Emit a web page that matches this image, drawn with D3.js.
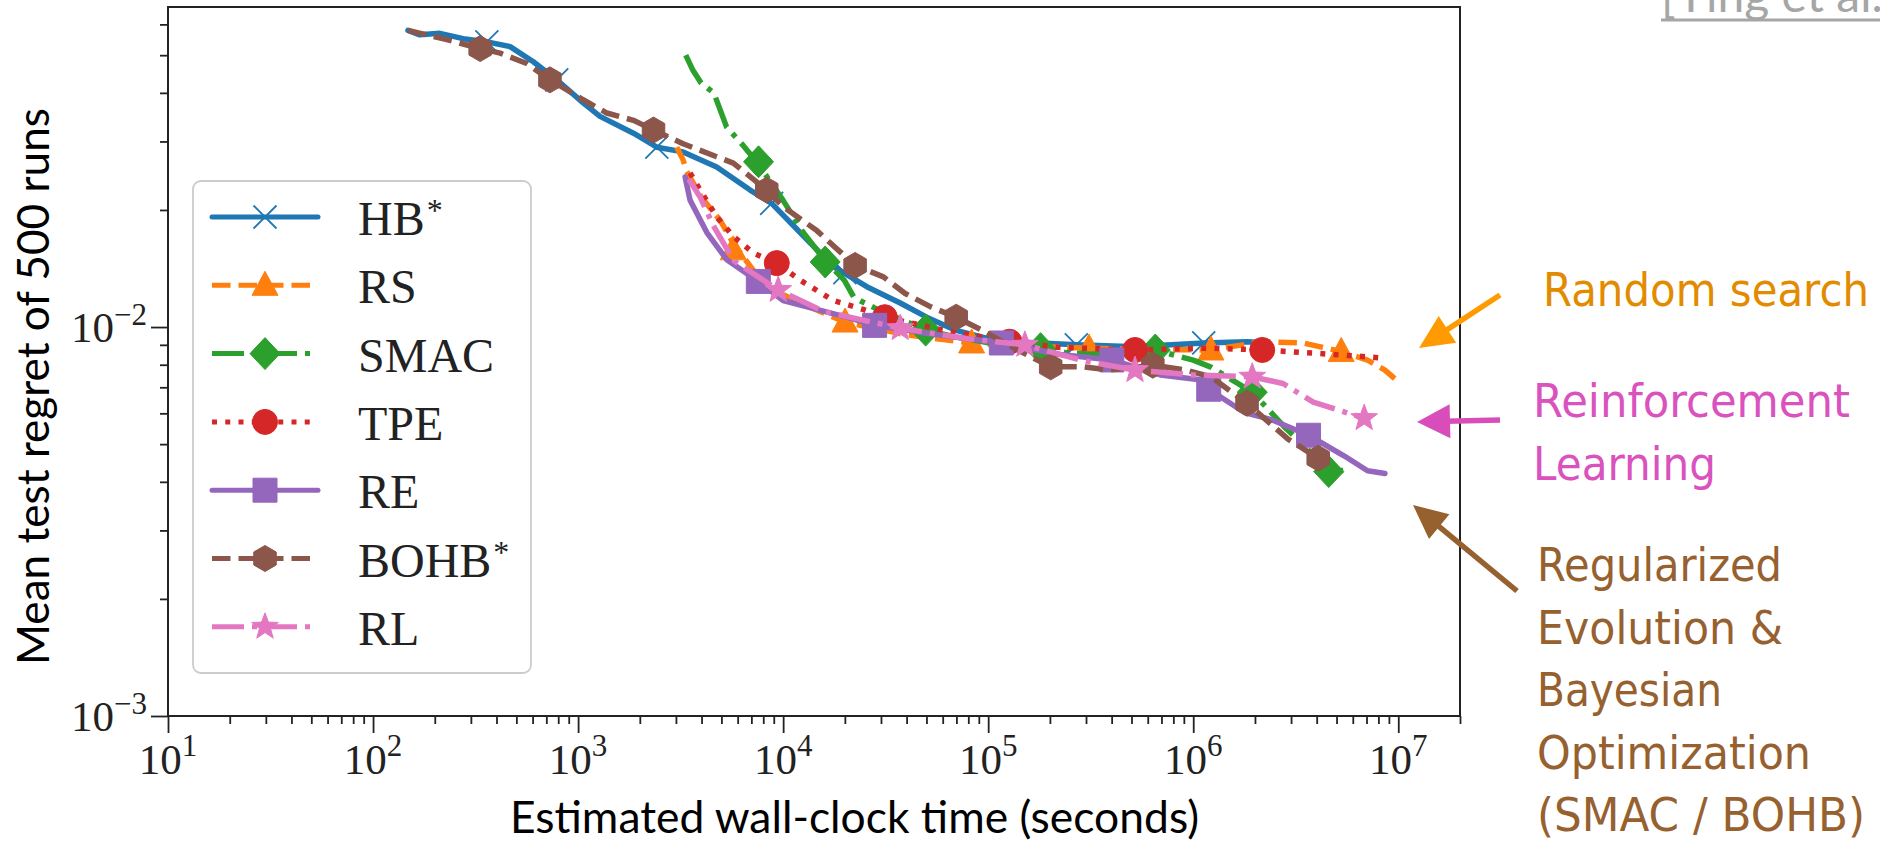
<!DOCTYPE html>
<html>
<head>
<meta charset="utf-8">
<script src="https://cdn.jsdelivr.net/npm/d3@7"></script>
<style>
  body { margin: 0; background: #fff; }
</style>
</head>
<body>
<div id="chart"></div>
<script>
// Size of the page
var width = 1880;
var height = 843;

// Series, in drawing order (later ones on top)
var names = ["HB*", "RS", "SMAC", "TPE", "RE", "BOHB*", "RL"];
var colors = ["#1f77b4", "#ff7f0e", "#2ca02c", "#d62728", "#9467bd", "#8c564b", "#e377c2"];

// [seconds, mean test regret]
var hbLine = [[148,0.0579],[169,0.0564],[212,0.0569],[282,0.0550],[359,0.0541],[466,0.0526],[605,0.0481],[787,0.0432],[1059,0.0377],[1279,0.0348],[1862,0.0315],[2421,0.0290],[3251,0.0282],[4742,0.0258],[6902,0.0225],[8790,0.0208],[12100,0.0175],[17580,0.0143],[25590,0.0127],[37240,0.01153],[50100,0.0106],[69800,0.0098],[1e5,0.00933],[1.58e5,0.00912],[2.69e5,0.0090],[5.2e5,0.0089],[1.125e6,0.0091],[1.83e6,0.00917],[2.19e6,0.00912]];
var hbMarks = [[359,0.0541],[787,0.0432],[2421,0.0290],[8790,0.0208],[20000,0.0138],[2.69e5,0.0090],[1.125e6,0.0091]];

var rsLine = [[3027,0.0290],[3251,0.0269],[3388,0.0251],[3981,0.0216],[4932,0.0188],[5715,0.0164],[7079,0.0141],[8318,0.0127],[12100,0.01153],[20040,0.0103],[39800,0.00955],[83000,0.0091],[1.58e5,0.00891],[3.1e5,0.00883],[6.31e5,0.00875],[1.22e6,0.00873],[2.17e6,0.00917],[3.44e6,0.0091],[5.27e6,0.00865],[7.08e6,0.00822],[8.61e6,0.00775],[9.77e6,0.00731]];
var rsMarks = [[5715,0.0158],[20040,0.0103],[83000,0.0091],[3.1e5,0.00883],[1.22e6,0.00873],[5.27e6,0.00865]];

var smacLine = [[3350,0.0500],[3631,0.0457],[3981,0.0424],[4592,0.0400],[5297,0.0327],[6310,0.0295],[7464,0.0265],[9977,0.0212],[12530,0.0175],[16220,0.0147],[19860,0.0132],[22180,0.0119],[27930,0.0112],[49550,0.00982],[69820,0.00942],[1.12e5,0.00902],[1.75e5,0.0087],[3.16e5,0.00851],[6.53e5,0.00873],[1e6,0.00822],[1.22e6,0.00789],[1.94e6,0.0068],[2.82e6,0.0055],[3.55e6,0.0049],[4.58e6,0.00425],[5.77e6,0.00429]];
var smacMarks = [[7586,0.0266],[16030,0.0147],[49550,0.00982],[1.8e5,0.0088],[6.53e5,0.00873],[1.94e6,0.0068],[4.58e6,0.00425]];

var tpeLine = [[3516,0.0249],[3936,0.0225],[4742,0.0192],[5715,0.0171],[7161,0.0155],[9311,0.0146],[12100,0.0132],[17580,0.0117],[24550,0.0111],[31330,0.0106],[63100,0.00977],[1.27e5,0.00917],[2.19e5,0.00887],[5.2e5,0.00873],[1.22e6,0.00883],[2.17e6,0.00873],[3.85e6,0.00857],[8.61e6,0.00832]];
var tpeMarks = [[9311,0.0146],[31330,0.0106],[1.27e5,0.00917],[5.2e5,0.00873],[2.17e6,0.00873]];

var reLine = [[3327,0.0243],[3516,0.0212],[4246,0.0175],[5309,0.0149],[7568,0.0131],[10000,0.0117],[14590,0.0111],[21230,0.01054],[27930,0.0101],[56200,0.00955],[1.159e5,0.0091],[2.24e5,0.0085],[4.01e5,0.00823],[6.92e5,0.00753],[1.10e6,0.00731],[1.19e6,0.00692],[1.78e6,0.00603],[2.43e6,0.00577],[3.65e6,0.00527],[5.46e6,0.00466],[7.08e6,0.00427],[8.61e6,0.0042]];
var reMarks = [[7568,0.0131],[27930,0.0101],[1.159e5,0.0091],[4.01e5,0.00823],[1.19e6,0.00692],[3.65e6,0.00527]];

var bohbLine = [[148,0.0579],[224,0.0550],[333,0.0520],[417,0.0506],[562,0.0476],[729,0.0432],[1059,0.0384],[1380,0.0355],[1862,0.0340],[2333,0.0321],[3251,0.0296],[4742,0.0274],[5715,0.0264],[8318,0.0225],[10000,0.0204],[14590,0.0177],[22440,0.0144],[30830,0.01346],[39360,0.0122],[52480,0.01127],[69820,0.0106],[93110,0.00982],[1.41e5,0.0087],[2.018e5,0.0079],[2.931e5,0.0079],[3.89e5,0.00775],[6.353e5,0.00798],[9.2e5,0.00775],[1.22e6,0.00745],[1.83e6,0.00637],[2.9e6,0.00515],[4.07e6,0.0046],[4.58e6,0.00447]];
var bohbMarks = [[333,0.0520],[729,0.0432],[2333,0.0321],[8318,0.0225],[22440,0.0144],[69820,0.0106],[2.018e5,0.0079],[6.353e5,0.00798],[1.83e6,0.00637],[4.07e6,0.0046]];

var rlLine = [[3467,0.0240],[3936,0.0216],[4571,0.0182],[5754,0.0148],[9462,0.01245],[15850,0.01096],[37240,0.00993],[79400,0.00933],[1.51e5,0.0090],[2.82e5,0.00822],[5.2e5,0.00775],[1e6,0.00753],[1.94e6,0.00745],[2.74e6,0.00716],[3.85e6,0.00641],[6.82e6,0.00583]];
var rlMarks = [[9462,0.01245],[37240,0.00993],[1.51e5,0.0090],[5.2e5,0.00775],[1.94e6,0.00745],[6.82e6,0.00583]];

var lines = [hbLine, rsLine, smacLine, tpeLine, reLine, bohbLine, rlLine];
var marks = [hbMarks, rsMarks, smacMarks, tpeMarks, reMarks, bohbMarks, rlMarks];

// tick labels (powers of ten)
var xExponents = [1, 2, 3, 4, 5, 6, 7];
var yExponents = [-3, -2];

var xTitle = "Estimated wall-clock time (seconds)";
var yTitle = "Mean test regret of 500 runs";
var citation = "[Ying et al., 2019]";
var noteRS = ["Random search"];
var noteRL = ["Reinforcement", "Learning"];
var noteBO = ["Regularized", "Evolution &", "Bayesian", "Optimization", "(SMAC / BOHB)"];

// line styles per series
var dashes = [null, "18.5,8", "32,8,5,8", "5,8.25", null, "18.5,8", "32,8,5,8"];
var symbols = ["x", "triangle", "diamond", "circle", "square", "hexagon", "star"];

var serif = "'Liberation Serif', 'DejaVu Serif', serif";
var sans = "Lato, 'Open Sans', sans-serif";
var noteFont = "'DejaVu Sans', Verdana, sans-serif";

var svg = d3.select("#chart")
  .append("svg")
  .attr("width", width)
  .attr("height", height);

// scales
var x = d3.scaleLog().domain([10, 2e7]).range([168, 1460]);
var y = d3.scaleLog().domain([1e-3, 0.0665]).range([716, 7]);

function isMajor(v) {
  var l = Math.log10(v);
  return Math.abs(l - Math.round(l)) < 1e-9;
}

// axes: minor and major ticks
var xTicks = x.ticks();
var yTicks = y.ticks();

function styleAxis(g) {
  g.select(".domain").remove();
  g.selectAll("line").attr("stroke", "#222").attr("stroke-width", 1.8);
}

svg.append("g")
  .attr("transform", "translate(0,716)")
  .call(d3.axisBottom(x).tickValues(xTicks.filter(function(d) { return !isMajor(d); })).tickSize(8).tickFormat(""))
  .call(styleAxis);
svg.append("g")
  .attr("transform", "translate(0,716)")
  .call(d3.axisBottom(x).tickValues(xTicks.filter(isMajor)).tickSize(17).tickFormat(""))
  .call(styleAxis);
svg.append("g")
  .attr("transform", "translate(168,0)")
  .call(d3.axisLeft(y).tickValues(yTicks.filter(function(d) { return !isMajor(d); })).tickSize(8).tickFormat(""))
  .call(styleAxis);
svg.append("g")
  .attr("transform", "translate(168,0)")
  .call(d3.axisLeft(y).tickValues(yTicks.filter(isMajor)).tickSize(17).tickFormat(""))
  .call(styleAxis);

// tick labels 10^n
var xLab = svg.append("g").selectAll("text")
  .data(xExponents)
  .enter()
  .append("text")
    .attr("x", function(d) { return x(Math.pow(10, d)); })
    .attr("y", 774)
    .attr("text-anchor", "middle")
    .style("font-family", serif)
    .style("font-size", "43px")
    .attr("fill", "#222");
xLab.append("tspan").text("10");
xLab.append("tspan").attr("dy", -18).style("font-size", "31px").text(function(d) { return String(d); });

var yLab = svg.append("g").selectAll("text")
  .data(yExponents)
  .enter()
  .append("text")
    .attr("x", 147)
    .attr("y", function(d) { return y(Math.pow(10, d)) + 15; })
    .attr("text-anchor", "end")
    .style("font-family", serif)
    .style("font-size", "43px")
    .attr("fill", "#222");
yLab.append("tspan").text("10");
yLab.append("tspan").attr("dy", -17).style("font-size", "31px").text(function(d) { return "\u2212" + Math.abs(d); });

// axis titles
svg.append("text")
  .attr("x", 510)
  .attr("y", 833)
  .attr("textLength", 689)
  .attr("lengthAdjust", "spacingAndGlyphs")
  .style("font-family", sans)
  .style("font-size", "44px")
  .text(xTitle);

svg.append("text")
  .attr("transform", "translate(49,665) rotate(-90)")
  .attr("textLength", 557)
  .attr("lengthAdjust", "spacingAndGlyphs")
  .style("font-family", sans)
  .style("font-size", "44px")
  .text(yTitle);

// marker shapes centred at 0,0
function markerPath(type) {
  var p = d3.path(), i, a, r;
  if (type === "x") {
    p.moveTo(-11.5, -11.5); p.lineTo(11.5, 11.5);
    p.moveTo(-11.5, 11.5); p.lineTo(11.5, -11.5);
  } else if (type === "triangle") {
    p.moveTo(0, -14); p.lineTo(13, 10); p.lineTo(-13, 10); p.closePath();
  } else if (type === "diamond") {
    p.moveTo(0, -16); p.lineTo(15, 0); p.lineTo(0, 16); p.lineTo(-15, 0); p.closePath();
  } else if (type === "circle") {
    p.arc(0, 0, 12.5, 0, 2 * Math.PI);
  } else if (type === "square") {
    p.rect(-12, -12, 24, 24);
  } else if (type === "hexagon") {
    for (i = 0; i < 6; i++) {
      a = -Math.PI / 2 + i * Math.PI / 3;
      if (i === 0) p.moveTo(13 * Math.cos(a), 13 * Math.sin(a));
      else p.lineTo(13 * Math.cos(a), 13 * Math.sin(a));
    }
    p.closePath();
  } else if (type === "star") {
    for (i = 0; i < 10; i++) {
      a = -Math.PI / 2 + i * Math.PI / 5;
      r = i % 2 === 0 ? 14 : 5.8;
      if (i === 0) p.moveTo(r * Math.cos(a), r * Math.sin(a));
      else p.lineTo(r * Math.cos(a), r * Math.sin(a));
    }
    p.closePath();
  }
  return p.toString();
}

function drawMarker(g, type, color, cx, cy) {
  var m = g.append("path")
    .attr("d", markerPath(type))
    .attr("transform", "translate(" + cx + "," + cy + ")");
  if (type === "x") {
    m.attr("fill", "none").attr("stroke", color).attr("stroke-width", 1.8);
  } else {
    m.attr("fill", color).attr("stroke", color).attr("stroke-width", 1);
  }
}

// plot area clip
svg.append("clipPath").attr("id", "plotclip")
  .append("rect").attr("x", 168).attr("y", 7).attr("width", 1292).attr("height", 709);

var line = d3.line()
  .x(function(d) { return x(d[0]); })
  .y(function(d) { return y(d[1]); });

var plot = svg.append("g").attr("clip-path", "url(#plotclip)");

names.forEach(function(name, i) {
  var g = plot.append("g").attr("class", "series");
  g.append("path")
    .datum(lines[i])
    .attr("d", line)
    .attr("fill", "none")
    .attr("stroke", colors[i])
    .attr("stroke-width", 5.5)
    .attr("stroke-linejoin", "round")
    .attr("stroke-linecap", dashes[i] ? "butt" : "round")
    .attr("stroke-dasharray", dashes[i]);
  marks[i].forEach(function(d) {
    drawMarker(g, symbols[i], colors[i], x(d[0]), y(d[1]));
  });
});

// frame
svg.append("rect")
  .attr("x", 168).attr("y", 7)
  .attr("width", 1292).attr("height", 709)
  .attr("fill", "none")
  .attr("stroke", "#222")
  .attr("stroke-width", 2);

// legend
var legend = svg.append("g").attr("class", "legend");
legend.append("rect")
  .attr("x", 193).attr("y", 181)
  .attr("width", 338).attr("height", 492)
  .attr("rx", 8)
  .attr("fill", "#fff")
  .attr("fill-opacity", 0.8)
  .attr("stroke", "#cccccc")
  .attr("stroke-width", 1.8);

names.forEach(function(name, i) {
  var ly = 217 + i * 68.3;
  var row = legend.append("g");
  row.append("line")
    .attr("x1", 212).attr("x2", 318)
    .attr("y1", ly).attr("y2", ly)
    .attr("stroke", colors[i])
    .attr("stroke-width", 5)
    .attr("stroke-linecap", dashes[i] ? "butt" : "round")
    .attr("stroke-dasharray", dashes[i]);
  drawMarker(row, symbols[i], colors[i], 265, ly);
  var t = row.append("text")
    .attr("x", 358)
    .attr("y", ly + 18)
    .style("font-family", serif)
    .style("font-size", "48px")
    .attr("fill", "#222");
  var parts = name.split("*");
  t.append("tspan").text(parts[0]);
  if (name.indexOf("*") >= 0) {
    t.append("tspan").attr("dx", 2).attr("dy", -14).style("font-size", "32px").text("*");
  }
});

// citation, cut off at the top of the slide
svg.append("text")
  .attr("x", 1661)
  .attr("y", 12)
  .style("font-family", sans)
  .style("font-size", "48px")
  .attr("fill", "#a6a6a6")
  .text(citation);
svg.append("line")
  .attr("x1", 1661).attr("x2", 1880)
  .attr("y1", 20).attr("y2", 20)
  .attr("stroke", "#a6a6a6")
  .attr("stroke-width", 3);

// annotation arrows
function arrow(x1, y1, x2, y2, color, headLen, headW) {
  var dx = x2 - x1, dy = y2 - y1;
  var len = Math.sqrt(dx * dx + dy * dy);
  var ux = dx / len, uy = dy / len;
  var bx = x2 - ux * headLen, by = y2 - uy * headLen;
  svg.append("line")
    .attr("x1", x1).attr("y1", y1)
    .attr("x2", bx + ux * 4).attr("y2", by + uy * 4)
    .attr("stroke", color)
    .attr("stroke-width", 5.5);
  svg.append("path")
    .attr("d", "M" + x2 + "," + y2 +
      "L" + (bx - uy * headW / 2) + "," + (by + ux * headW / 2) +
      "L" + (bx + uy * headW / 2) + "," + (by - ux * headW / 2) + "Z")
    .attr("fill", color);
}
arrow(1500, 295, 1419, 348, "#ff9b00", 34, 32);
arrow(1500, 420, 1417, 422, "#d94dbb", 33, 34);
arrow(1517, 591, 1413, 505, "#96612f", 34, 32);

// annotation texts
function note(linesText, x0, y0, color, widths) {
  linesText.forEach(function(s, i) {
    svg.append("text")
      .attr("x", x0)
      .attr("y", y0 + i * 62.5)
      .attr("textLength", widths[i])
      .attr("lengthAdjust", "spacingAndGlyphs")
      .style("font-family", noteFont)
      .style("font-size", "47px")
      .attr("fill", color)
      .text(s);
  });
}
note(noteRS, 1543, 306, "#e38b00", [326]);
note(noteRL, 1533, 417, "#d952be", [317, 183]);
note(noteBO, 1537, 581, "#96612f", [245, 246, 185, 274, 328]);
</script>
</body>
</html>
